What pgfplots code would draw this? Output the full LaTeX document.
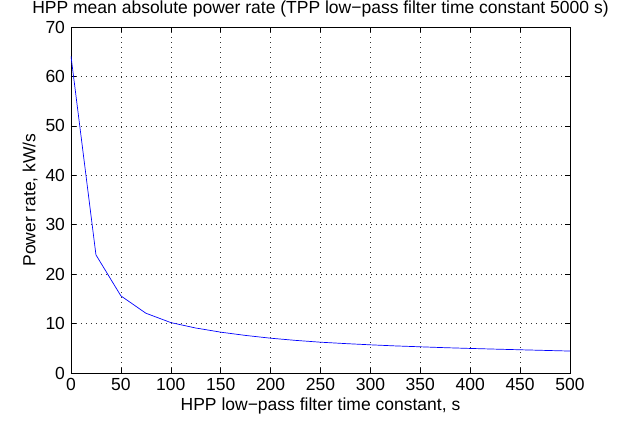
\documentclass[border=0pt]{standalone}
\usepackage{fontspec}
\setmainfont{Liberation Sans}
\usepackage{pgfplots}
\pgfplotsset{compat=1.18}
\begin{document}
\fontsize{17.5bp}{20bp}\selectfont
\begin{tikzpicture}
\useasboundingbox (-71bp,-59bp) rectangle (560bp,373bp);
\begin{axis}[
  at={(0,0)}, anchor=origin,
  scale only axis,
  width=499bp, height=346bp,
  xmin=0, xmax=500, ymin=0, ymax=70,
  xtick={0,50,...,500}, ytick={0,10,...,70},
  tick align=inside,
  major tick length=5bp,
  grid=major,
  major grid style={black!80, line width=0.5pt, dash pattern=on 0.8bp off 4.2bp},
  axis line style={black, line width=0.7pt},
  tick style={black, line width=0.6pt},
  /pgf/number format/assume math mode=true,
  ticklabel style={font=\fontsize{17.5bp}{20bp}\selectfont},
  xticklabel style={yshift=1bp},
  label style={font=\fontsize{17.5bp}{20bp}\selectfont},
  title style={font=\fontsize{17.5bp}{20bp}\selectfont, yshift=-2bp},
  title={HPP mean absolute power rate (TPP low−pass filter time constant 5000 s)},
  xlabel={HPP low−pass filter time constant, s},
  ylabel={Power rate, kW/s},
  xlabel style={yshift=4bp},
  ylabel style={yshift=-4bp},
]
\addplot[blue, line width=0.7pt] coordinates {
(0,64.1) (25,23.9) (50,15.6) (75,12.1) (100,10.2) (125,9.1) (150,8.26)
(175,7.6) (200,7.04) (225,6.6) (250,6.23) (275,5.95) (300,5.70)
(325,5.48) (350,5.3) (375,5.12) (400,4.97) (425,4.83) (450,4.70)
(475,4.57) (500,4.44)
};
\end{axis}
\end{tikzpicture}
\end{document}
